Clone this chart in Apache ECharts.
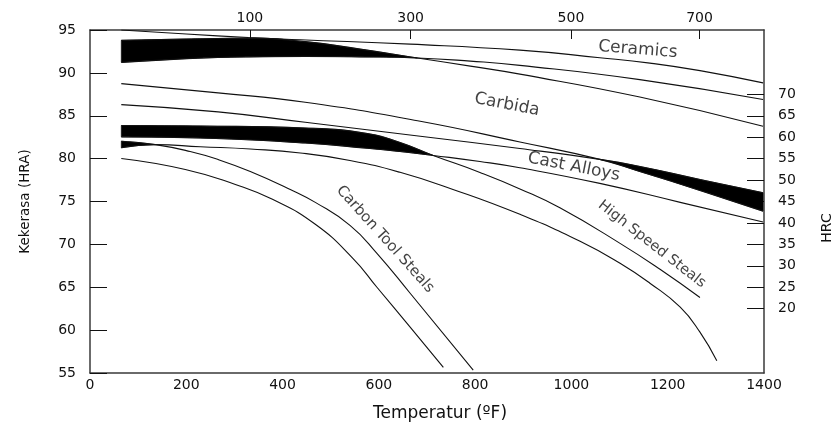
<!DOCTYPE html>
<html><head><meta charset="utf-8">
<script src="https://cdn.jsdelivr.net/npm/echarts@6/dist/echarts.min.js"></script>
<style>html,body{margin:0;padding:0;background:#fff}#c{width:837px;height:425px}</style>
</head><body><div id="c"></div>
<script>
// ---- data: temperature (°F) and hardness (HRA) ----
const ceramicUpperF   = [65,200,329,437,665,893,1059,1163,1267,1398];
const ceramicUpperHRA = [95.0,94.53,94.13,93.87,93.35,92.65,91.77,91.14,90.26,88.83];

const carbideUpperF   = [65,200,266,329,447,561,680,790,893,1142,1398];
const carbideUpperHRA = [93.79,93.95,94.01,94.05,93.64,92.77,91.74,90.79,89.85,87.18,83.78];

const ceramicLowerF   = [65,200,266,329,447,561,680,790,893,1142,1398];
const ceramicLowerHRA = [91.23,91.66,91.80,91.87,91.92,91.87,91.74,91.37,90.88,89.21,86.89];

const carbideLowerF   = [65,266,447,686,893,1059,1142,1267,1398];
const carbideLowerHRA = [88.75,87.67,86.57,84.36,81.94,79.91,78.50,76.29,73.88];

const castUpperF   = [65,266,447,686,893,1059,1142,1267,1398];
const castUpperHRA = [86.30,85.45,84.24,82.61,81.18,79.91,79.09,77.57,76.03];

const hssUpperF   = [65,229,447,576,644,713,810,893,976,1101,1184,1267];
const hssUpperHRA = [83.86,83.80,83.57,82.93,81.88,80.37,78.39,76.47,74.26,70.12,67.10,63.80];

const castLowerF   = [65,229,447,576,644,713,810,893,1059,1226,1398];
const castLowerHRA = [82.54,82.40,81.82,81.21,80.83,80.37,79.67,78.94,77.11,74.90,72.60];

const carbonUpperF   = [65,136,208,266,333,416,468,540,596,665,796];
const carbonUpperHRA = [82.03,81.63,80.83,79.90,78.50,76.41,74.90,72.22,68.96,64.30,55.34];

const hssLowerF   = [65,136,229,333,437,540,644,754,893,1018,1101,1163,1226,1267,1302];
const hssLowerHRA = [81.26,81.63,81.39,81.12,80.66,79.79,78.40,76.41,73.50,70.36,67.79,65.47,62.67,59.76,56.42];

const carbonLowerF   = [65,198,302,379,468,546,596,665,734];
const carbonLowerHRA = [80.02,78.74,76.99,75.25,72.34,68.38,65.00,60.34,55.65];

// curve labels (text and anchor in data units)
const labelText = ['Ceramics','Carbida','Cast Alloys','Carbon Tool Steals','High Speed Steals'];
const labelF    = [1138, 866, 1005, 613, 1167];
const labelHRA  = [92.71, 86.30, 79.03, 70.59, 70.01];

// axis tick labels
const bottomTicks = [0,200,400,600,800,1000,1200,1400];
const leftTicks   = [55,60,65,70,75,80,85,90,95];
const topTickF      = [332, 666, 999, 1266];
const topTickLabels = ['100','300','500','700'];
const hrcTicks = [20,25,30,35,40,45,50,55,60,65,70];

// ---- build ----
const curves = [
  [ceramicUpperF, ceramicUpperHRA],
  [carbideUpperF, carbideUpperHRA],
  [ceramicLowerF, ceramicLowerHRA],
  [carbideLowerF, carbideLowerHRA],
  [castUpperF, castUpperHRA],
  [hssUpperF, hssUpperHRA],
  [castLowerF, castLowerHRA],
  [carbonUpperF, carbonUpperHRA],
  [hssLowerF, hssLowerHRA],
  [carbonLowerF, carbonLowerHRA]
];
// black filled regions between two curves (index range shared by both curves)
const bands = [
  {upper:[carbideUpperF,carbideUpperHRA], lower:[ceramicLowerF,ceramicLowerHRA], from:0, to:6},
  {upper:[hssUpperF,hssUpperHRA],         lower:[castLowerF,castLowerHRA],       from:0, to:5},
  {upper:[castUpperF,castUpperHRA],       lower:[carbideLowerF,carbideLowerHRA], from:5, to:8},
  {upper:[carbonUpperF,carbonUpperHRA],   lower:[hssLowerF,hssLowerHRA],         from:0, to:1}
];

function ctrl(pts, s) {
  const n = pts.length, cin = [], cout = [];
  for (let i = 0; i < n; i++) {
    const x = pts[i][0], y = pts[i][1];
    const p = i > 0 ? pts[i-1] : pts[i];
    const q = i < n-1 ? pts[i+1] : pts[i];
    const lp = Math.hypot(x-p[0], y-p[1]), ln = Math.hypot(q[0]-x, q[1]-y);
    if (i === 0) { cin.push([x,y]); cout.push([x,y]); continue; }
    if (i === n-1) { cin.push([x-(x-p[0])*s, y-(y-p[1])*s]); cout.push([x,y]); continue; }
    const vx = q[0]-p[0], vy = q[1]-p[1];
    const r = ln/(lp+ln);
    let ox = x + vx*s*r, oy = y + vy*s*r;
    ox = Math.min(ox, Math.max(q[0],x)); oy = Math.min(oy, Math.max(q[1],y));
    ox = Math.max(ox, Math.min(q[0],x)); oy = Math.max(oy, Math.min(q[1],y));
    let ix = x - (ox-x)*lp/ln, iy = y - (oy-y)*lp/ln;
    ix = Math.min(ix, Math.max(p[0],x)); iy = Math.min(iy, Math.max(p[1],y));
    ix = Math.max(ix, Math.min(p[0],x)); iy = Math.max(iy, Math.min(p[1],y));
    ox = x + (x-ix)*ln/lp; oy = y + (y-iy)*ln/lp;
    cin.push([ix,iy]); cout.push([ox,oy]);
  }
  return {cin, cout};
}
function bez(a,b,c,d,t){
  const u=1-t;
  return [u*u*u*a[0]+3*u*u*t*b[0]+3*u*t*t*c[0]+t*t*t*d[0],
          u*u*u*a[1]+3*u*u*t*b[1]+3*u*t*t*c[1]+t*t*t*d[1]];
}
function edge(pts, from, to){
  const c = ctrl(pts, 0.5);
  const out = [pts[from]];
  for (let i = from; i < to; i++)
    for (let k = 1; k <= 16; k++) out.push(bez(pts[i], c.cout[i], c.cin[i+1], pts[i+1], k/16));
  return out;
}

const font = 'DejaVu Sans';
const txt = '#111';
const axisLine = {show:true, onZero:false, lineStyle:{color:'#3a3a3a', width:1.5}};
const tickStyle = {color:'#111', width:1};

const labelStyle = [
  {rotate:-4.5, fontSize:17},
  {rotate:-11, fontSize:17},
  {rotate:-11, fontSize:17},
  {rotate:-48, fontSize:15},
  {rotate:-38, fontSize:14.5}
];

const series = [];
series.push({
  type:'custom', silent:true, clip:true, z:1,
  data: bands.map(b => [b.upper[0][b.from], b.upper[1][b.from]]),
  renderItem: function(params, api){
    const b = bands[params.dataIndex];
    const up = b.upper[0].map((f,i) => api.coord([f, b.upper[1][i]]));
    const lo = b.lower[0].map((f,i) => api.coord([f, b.lower[1][i]]));
    const pts = edge(up, b.from, b.to).concat(edge(lo, b.from, b.to).reverse());
    return {type:'polygon', shape:{points:pts}, style:{fill:'#000', stroke:'#000', lineWidth:0.6}};
  }
});
curves.forEach(c => {
  series.push({
    type:'line', smooth:true, showSymbol:false, silent:true, z:2,
    data: c[0].map((f,i) => [f, c[1][i]]),
    lineStyle:{color:'#111', width:1.1}
  });
});
series.push({
  type:'scatter', symbolSize:0, silent:true, z:3,
  data: labelText.map((t,i) => ({
    value:[labelF[i], labelHRA[i]],
    label:{rotate:labelStyle[i].rotate, fontSize:labelStyle[i].fontSize}
  })),
  label:{show:true, position:'inside', fontFamily:font, color:txt,
    formatter: p => labelText[p.dataIndex]}
});

const chart = echarts.init(document.getElementById('c'), null, {renderer:'canvas'});
chart.setOption({
  animation:false,
  backgroundColor:'#fff',
  grid:{left:90, top:30, right:73, bottom:52, containLabel:false, outerBoundsMode:'none'},
  xAxis:[
    {type:'value', position:'bottom', min:bottomTicks[0], max:bottomTicks[bottomTicks.length-1], interval:200,
     axisLine:axisLine, axisTick:{show:false}, splitLine:{show:false},
     axisLabel:{customValues:bottomTicks, color:txt, fontSize:14, fontFamily:font, margin:5,
       formatter: v => String(v)}},
    {type:'value', position:'top', min:0, max:1400,
     axisLine:axisLine, splitLine:{show:false},
     axisTick:{show:true, inside:true, length:9, customValues:topTickF, lineStyle:tickStyle},
     axisLabel:{customValues:topTickF, color:txt, fontSize:14, fontFamily:font, margin:5,
       formatter: v => { const i = topTickF.indexOf(v); return i >= 0 ? topTickLabels[i] : ''; }}}
  ],
  yAxis:[
    {type:'value', position:'left', min:leftTicks[0], max:leftTicks[leftTicks.length-1],
     axisLine:axisLine, splitLine:{show:false},
     axisTick:{show:true, inside:true, length:17, customValues:leftTicks, lineStyle:tickStyle},
     axisLabel:{customValues:leftTicks, color:txt, fontSize:14, fontFamily:font, margin:14,
       formatter: v => String(v)},
     name:'Kekerasa (HRA)', nameLocation:'middle', nameGap:58,
     nameTextStyle:{color:txt, fontSize:13.5, fontFamily:font}},
    {type:'value', position:'right', min:5, max:85,
     axisLine:axisLine, splitLine:{show:false},
     axisTick:{show:true, inside:true, length:17, customValues:hrcTicks, lineStyle:tickStyle},
     axisLabel:{customValues:hrcTicks, color:txt, fontSize:14, fontFamily:font, margin:14,
       formatter: v => String(v)}}
  ],
  graphic:[
    {type:'text', x:827, y:228, rotation:Math.PI/2,
     style:{text:'HRC', fontSize:14, fontFamily:font, fill:txt, align:'center', verticalAlign:'middle', textAlign:'center', textVerticalAlign:'middle'}},
    {type:'text', x:440, y:414,
     style:{text:'Temperatur (ºF)', fontSize:17, fontFamily:font, fill:txt, align:'center', verticalAlign:'middle', textAlign:'center', textVerticalAlign:'middle'}}
  ],
  series: series
});
</script>
</body></html>
